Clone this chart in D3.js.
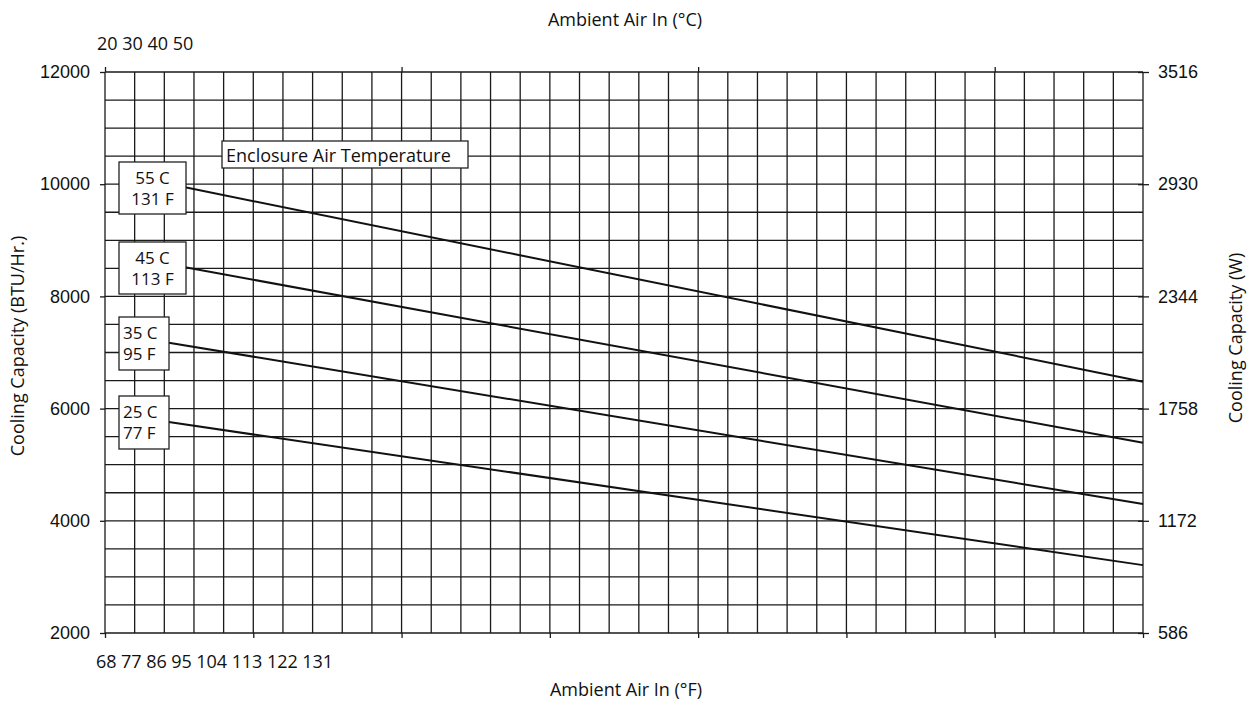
<!DOCTYPE html>
<html>
<head>
<meta charset="utf-8">
<script src="https://cdn.jsdelivr.net/npm/d3@7"></script>
<style>
  body { margin: 0; background: #fff; }
  svg { font-family: "Open Sans", sans-serif; }
  .grid line { stroke: #1a1a1a; stroke-width: 1.3; }
  .axis path, .axis line { stroke: #1a1a1a; stroke-width: 1.3; }
  .axis text { font-size: 18px; fill: #111; }
  .label { font-size: 18px; fill: #111; }
  .tag text { font-size: 17px; fill: #111; }
</style>
</head>
<body>
<svg width="1248" height="704"></svg>
<script>
(function() {

  // ambient air temperature (deg C) where each line starts and ends
  var ambientStart = [22.7, 22.7, 22.15, 22.15];
  var ambientEnd = 55;
  // cooling capacity (BTU/Hr) at start and end, one series per enclosure air temperature
  var series = [
    {name: "55 C", sub: "131 F", values: [9945, 6480]},
    {name: "45 C", sub: "113 F", values: [8520, 5390]},
    {name: "35 C", sub: "95 F", values: [7175, 4300]},
    {name: "25 C", sub: "77 F", values: [5760, 3210]}
  ];
  var topTicks = [20, 30, 40, 50];
  var topLabels = ["20", "30", "40", "50"];
  var bottomTicks = [20, 25, 30, 35, 40, 45, 50, 55];
  var bottomLabels = ["68", "77", "86", "95", "104", "113", "122", "131"];
  var btuTicks = [2000, 4000, 6000, 8000, 10000, 12000];
  var wattTicks = [586, 1172, 1758, 2344, 2930, 3516];

  var svg = d3.select('svg');
  var left = 105, right = 1143, top = 72, bottom = 633;

  var x = d3.scaleLinear().domain([20, 55]).range([left, right]);
  var y = d3.scaleLinear().domain([2000, 12000]).range([bottom, top]);
  var y2 = d3.scaleLinear().domain([586, 3516]).range([bottom, top]);

  // grid: 1 C by 500 BTU
  var grid = svg.append('g').attr('class', 'grid');
  grid.selectAll('.v').data(d3.range(20, 56)).enter().append('line')
    .attr('x1', function(d) { return x(d); })
    .attr('x2', function(d) { return x(d); })
    .attr('y1', top).attr('y2', bottom);
  grid.selectAll('.h').data(d3.range(2000, 12001, 500)).enter().append('line')
    .attr('y1', function(d) { return y(d); })
    .attr('y2', function(d) { return y(d); })
    .attr('x1', left).attr('x2', right);

  svg.append('g').attr('class', 'axis')
    .attr('transform', 'translate(0,' + top + ')')
    .call(d3.axisTop(x).tickValues(topTicks).tickSize(5).tickSizeOuter(0).tickFormat(''));
  svg.append('g').attr('class', 'axis')
    .attr('transform', 'translate(0,' + bottom + ')')
    .call(d3.axisBottom(x).tickValues(bottomTicks).tickSize(5).tickSizeOuter(0).tickFormat(''));
  svg.append('g').attr('class', 'axis')
    .attr('transform', 'translate(' + left + ',0)')
    .call(d3.axisLeft(y).tickValues(btuTicks).tickSize(5).tickSizeOuter(0).tickPadding(10)
      .tickFormat(d3.format('d')));
  svg.append('g').attr('class', 'axis')
    .attr('transform', 'translate(' + right + ',0)')
    .call(d3.axisRight(y2).tickValues(wattTicks).tickSize(6).tickSizeOuter(0).tickPadding(9)
      .tickFormat(d3.format('d')))
    .selectAll('.tick line').attr('x1', -5);
  svg.selectAll('.axis path').remove();

  // the scale labels sit bunched at the left, as in the original sheet
  svg.append('text').attr('class', 'label')
    .attr('x', 97).attr('y', 50)
    .text(topLabels.join(' '));
  svg.append('text').attr('class', 'label')
    .attr('x', 96).attr('y', 668)
    .attr('textLength', 237).attr('lengthAdjust', 'spacing')
    .text(bottomLabels.join(' '));

  // capacity lines
  var line = d3.line()
    .x(function(d) { return x(d[0]); })
    .y(function(d) { return y(d[1]); });
  svg.selectAll('.cap').data(series).enter().append('path')
    .attr('class', 'cap')
    .attr('d', function(d, i) {
      return line([[ambientStart[i], d.values[0]], [ambientEnd, d.values[1]]]);
    })
    .attr('fill', 'none')
    .attr('stroke', '#111')
    .attr('stroke-width', 2);

  // boxed labels at the line starts
  var boxes = [
    {x: 119, y: 162, w: 67, h: 52, anchor: 'middle'},
    {x: 119, y: 242, w: 67, h: 52, anchor: 'middle'},
    {x: 119, y: 317, w: 50, h: 53, anchor: 'start'},
    {x: 119, y: 396, w: 50, h: 53, anchor: 'start'}
  ];
  var tx = function(d, i) {
    return boxes[i].anchor == 'middle' ? boxes[i].x + boxes[i].w / 2 : boxes[i].x + 4;
  };
  var tag = svg.selectAll('.tag').data(series).enter().append('g').attr('class', 'tag');
  tag.append('rect')
    .attr('x', function(d, i) { return boxes[i].x; })
    .attr('y', function(d, i) { return boxes[i].y; })
    .attr('width', function(d, i) { return boxes[i].w; })
    .attr('height', function(d, i) { return boxes[i].h; })
    .attr('fill', '#fff').attr('stroke', '#222').attr('stroke-width', 1.3);
  tag.append('text')
    .attr('text-anchor', function(d, i) { return boxes[i].anchor; })
    .attr('x', tx)
    .attr('y', function(d, i) { return boxes[i].y + 22; })
    .text(function(d) { return d.name; });
  tag.append('text')
    .attr('text-anchor', function(d, i) { return boxes[i].anchor; })
    .attr('x', tx)
    .attr('y', function(d, i) { return boxes[i].y + 43; })
    .text(function(d) { return d.sub; });

  svg.append('rect')
    .attr('x', 222).attr('y', 141).attr('width', 246).attr('height', 27)
    .attr('fill', '#fff').attr('stroke', '#222').attr('stroke-width', 1.3);
  svg.append('text').attr('class', 'label')
    .attr('x', 226).attr('y', 162)
    .text('Enclosure Air Temperature');

  // axis titles
  svg.append('text').attr('class', 'label').attr('text-anchor', 'middle')
    .attr('x', 625).attr('y', 26).text('Ambient Air In (°C)');
  svg.append('text').attr('class', 'label').attr('text-anchor', 'middle')
    .attr('x', 626).attr('y', 696).text('Ambient Air In (°F)');
  svg.append('text').attr('class', 'label').attr('text-anchor', 'middle')
    .attr('transform', 'translate(24,346) rotate(-90)').text('Cooling Capacity (BTU/Hr.)');
  svg.append('text').attr('class', 'label').attr('text-anchor', 'middle')
    .attr('transform', 'translate(1242,338) rotate(-90)').text('Cooling Capacity (W)');

})();
</script>
</body>
</html>
